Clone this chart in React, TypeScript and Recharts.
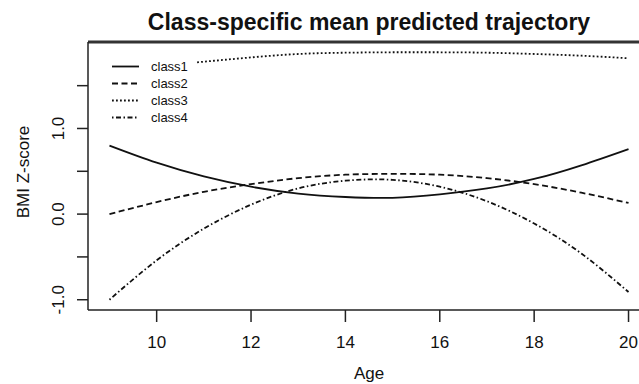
import React from 'react'
import { LineChart, Line, XAxis, YAxis, Legend, ReferenceLine, Label } from 'recharts'

const FONT = '"Liberation Sans", Arial, Helvetica, sans-serif'

// values, one entry per year of age
const ages = [9, 10, 11, 12, 13, 14, 15, 16, 17, 18, 19, 20]
const class1 = [0.8, 0.6, 0.44, 0.32, 0.24, 0.2, 0.19, 0.23, 0.3, 0.41, 0.57, 0.76]
const class2 = [0.0, 0.14, 0.26, 0.35, 0.42, 0.46, 0.47, 0.46, 0.42, 0.35, 0.25, 0.13]
const class3 = [1.68, 1.73, 1.78, 1.83, 1.87, 1.885, 1.89, 1.89, 1.885, 1.87, 1.85, 1.82]
const class4 = [-1.0, -0.54, -0.17, 0.11, 0.3, 0.39, 0.4, 0.32, 0.15, -0.11, -0.46, -0.91]

const xTicks = [10, 12, 14, 16, 18, 20]
const yTicks = [-1, -0.5, 0, 0.5, 1, 1.5]
const yLabelled = [-1, 0, 1]
const xDomain = [8.545, 20.455]
const yDomain = [-1.12, 2.01]

const series = [
  { key: 'class1', name: 'class1', dash: undefined },
  { key: 'class2', name: 'class2', dash: '6 3.5' },
  { key: 'class3', name: 'class3', dash: '1.8 2.2' },
  { key: 'class4', name: 'class4', dash: '1.5 2.5 5 2.5' },
]

const rows = ages.map((age, i) => ({
  age,
  class1: class1[i],
  class2: class2[i],
  class3: class3[i],
  class4: class4[i],
}))

const XTick = (props: any) => {
  const { x, y, payload } = props
  return (
    <text x={x} y={y + 12} textAnchor="middle" fontSize={17} fontFamily={FONT} fill="#111">
      {payload.value}
    </text>
  )
}

const YTick = (props: any) => {
  const { x, y, payload } = props
  if (!yLabelled.includes(payload.value)) return <g />
  return (
    <text
      x={x}
      y={y}
      dy="0.35em"
      transform={`rotate(-90 ${x} ${y})`}
      textAnchor="middle"
      fontSize={17}
      fontFamily={FONT}
      fill="#111"
    >
      {payload.value.toFixed(1)}
    </text>
  )
}

const LegendBox = () => (
  <div style={{ background: '#fff', padding: '8px 8px 6px 22px', fontFamily: FONT, fontSize: 13, color: '#111' }}>
    {series.map((s) => (
      <div key={s.key} style={{ display: 'flex', alignItems: 'center', height: 17 }}>
        <svg width={27} height={17} style={{ display: 'block' }}>
          <line x1={0} x2={27} y1={8.5} y2={8.5} stroke="#111" strokeWidth={1.8} strokeDasharray={s.dash} />
        </svg>
        <span style={{ marginLeft: 12, lineHeight: '17px' }}>{s.name}</span>
      </div>
    ))}
  </div>
)

export default function App() {
  return (
    <div style={{ position: 'absolute', left: 0, top: 0, width: 639, height: 384, overflow: 'hidden', background: '#fff' }}>
      <div
        style={{
          position: 'absolute',
          left: 0,
          top: 0,
          width: 738,
          height: 45,
          lineHeight: '45px',
          textAlign: 'center',
          fontFamily: FONT,
          fontWeight: 'bold',
          fontSize: 23,
          color: '#111',
          zIndex: 2,
        }}
      >
        Class-specific mean predicted trajectory
      </div>
      <LineChart width={660} height={384} data={rows} margin={{ top: 42, right: 10, bottom: 0, left: 0 }}>
        <XAxis
          dataKey="age"
          type="number"
          domain={xDomain}
          ticks={xTicks}
          interval={0}
          allowDataOverflow
          height={74}
          tickSize={12}
          tickMargin={14}
          tick={<XTick />}
          axisLine={{ stroke: '#222', strokeWidth: 1.5 }}
          tickLine={{ stroke: '#222', strokeWidth: 1.5 }}
        >
          <Label
            content={(p: any) => {
              const vb = p.viewBox || { x: 88, y: 310, width: 562, height: 74 }
              return (
                <text x={vb.x + vb.width / 2} y={vb.y + 69} textAnchor="middle" fontSize={17} fontFamily={FONT} fill="#111">
                  Age
                </text>
              )
            }}
          />
        </XAxis>
        <YAxis
          type="number"
          domain={yDomain}
          ticks={yTicks}
          interval={0}
          allowDataOverflow
          width={88}
          tickSize={11}
          tickMargin={19}
          tick={<YTick />}
          axisLine={{ stroke: '#222', strokeWidth: 1.5 }}
          tickLine={{ stroke: '#222', strokeWidth: 1.5 }}
        >
          <Label
            content={(p: any) => {
              const vb = p.viewBox || { x: 0, y: 42, width: 88, height: 268 }
              const cx = vb.x + 23
              const cy = vb.y + vb.height / 2 - 4
              return (
                <text
                  x={cx}
                  y={cy}
                  dy="0.35em"
                  transform={`rotate(-90 ${cx} ${cy})`}
                  textAnchor="middle"
                  fontSize={17}
                  fontFamily={FONT}
                  fill="#111"
                >
                  BMI Z-score
                </text>
              )
            }}
          />
        </YAxis>
        <ReferenceLine y={yDomain[1]} stroke="#333" strokeWidth={3} />
        {series.map((s) => (
          <Line
            key={s.key}
            type="natural"
            dataKey={s.key}
            name={s.name}
            stroke="#111"
            strokeWidth={1.8}
            strokeDasharray={s.dash}
            dot={false}
            activeDot={false}
            isAnimationActive={false}
          />
        ))}
        <Legend
          layout="vertical"
          align="center"
          verticalAlign="middle"
          wrapperStyle={{ left: 90, top: 50, width: 'auto', height: 'auto' }}
          content={() => <LegendBox />}
        />
      </LineChart>
    </div>
  )
}
